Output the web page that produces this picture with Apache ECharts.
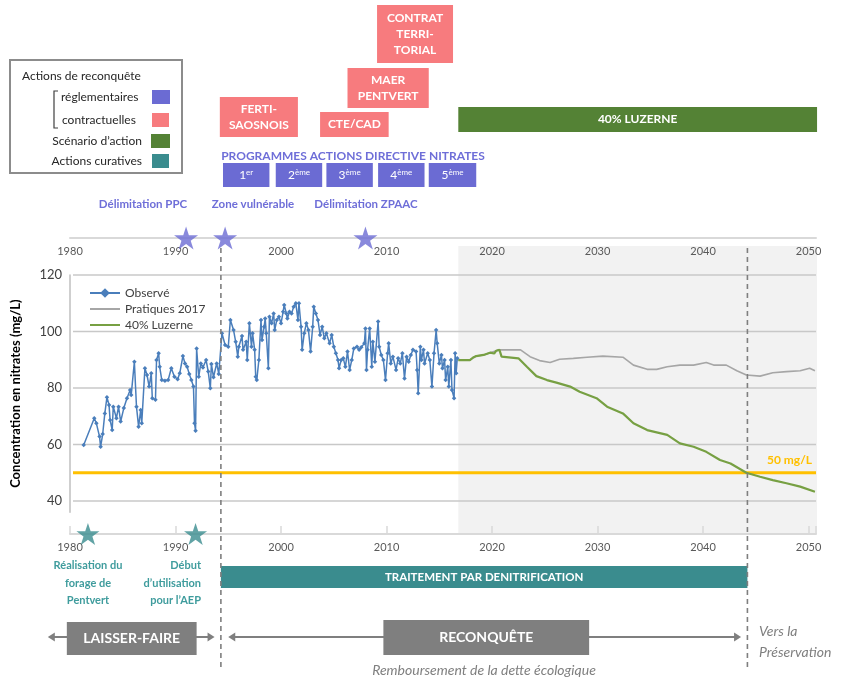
<!DOCTYPE html>
<html><head><meta charset="utf-8">
<script src="https://cdn.jsdelivr.net/npm/echarts@6/dist/echarts.min.js"></script>
<style>html,body{margin:0;padding:0;background:#fff}#c{width:845px;height:680px}</style>
</head><body><div id="c"></div>
<script>
// ---------------- DATA ----------------
const tickYears = [1980, 1990, 2000, 2010, 2020, 2030, 2040, 2050];
const yTicks = [40, 60, 80, 100, 120];
const threshold = 50;
const thresholdLabel = '50 mg/L';

const obsYears = [1981.3,1982.3,1982.5,1982.8,1982.9,1983.1,1983.3,1983.5,1983.7,1983.8,1984.0,1984.1,1984.4,1984.6,1984.8,1985.1,1985.4,1985.7,1985.8,1986.1,1986.3,1986.5,1986.7,1986.8,1987.1,1987.3,1987.5,1987.7,1987.8,1988.1,1988.2,1988.4,1988.5,1988.7,1989.0,1989.3,1989.6,1989.9,1990.2,1990.4,1990.7,1990.9,1991.1,1991.3,1991.5,1991.7,1991.8,1991.9,1992.0,1992.2,1992.4,1992.6,1992.9,1993.1,1993.3,1993.4,1993.6,1993.9,1994.1,1994.4,1994.7,1995.0,1995.2,1995.5,1995.7,1995.9,1996.0,1996.3,1996.4,1996.7,1996.8,1997.0,1997.2,1997.3,1997.5,1997.6,1997.7,1997.9,1998.1,1998.2,1998.4,1998.5,1998.6,1998.8,1998.9,1999.1,1999.3,1999.4,1999.6,1999.8,2000.0,2000.2,2000.3,2000.5,2000.6,2000.8,2001.0,2001.2,2001.4,2001.6,2001.7,2001.9,2002.0,2002.2,2002.4,2002.6,2002.8,2003.0,2003.1,2003.3,2003.5,2003.7,2003.9,2004.1,2004.3,2004.6,2004.8,2005.0,2005.2,2005.4,2005.5,2005.7,2005.9,2006.1,2006.3,2006.5,2006.7,2006.9,2007.2,2007.4,2007.6,2007.9,2008.0,2008.1,2008.2,2008.4,2008.6,2008.7,2008.9,2009.2,2009.3,2009.5,2009.7,2009.9,2010.1,2010.2,2010.4,2010.6,2010.9,2011.1,2011.3,2011.5,2011.7,2011.9,2012.1,2012.3,2012.5,2012.8,2012.9,2013.0,2013.2,2013.3,2013.5,2013.6,2013.9,2014.1,2014.3,2014.5,2014.7,2014.8,2015.0,2015.2,2015.3,2015.5,2015.6,2015.8,2015.9,2016.1,2016.2,2016.4,2016.5,2016.6,2016.7];
const obsValues = [59.8,69.3,67.5,62.8,59.2,63.7,71,76.7,74,68.7,65.1,73.4,69.3,73.4,68.1,72.9,76.4,79.3,77.5,89.3,73.4,66.3,72.2,67.5,87,84.6,80.5,85.2,76.4,75.8,89.9,92.3,87.5,82.8,82.6,82.8,87,84,83.1,85.2,91.3,88.7,87.5,85,82.8,80.5,67.5,64.9,94,84,88.7,87.3,89.9,85.8,79.9,88.5,83.8,88.7,85,99.4,95.2,94.6,104.1,100.5,96.4,91.1,94.6,98.4,93.5,96.4,89.9,102.9,94.6,99.4,93.5,84,82.8,89.9,104.1,97,101.7,104.6,99.4,87,105.2,102.9,106.4,100.5,104.1,105.2,102.9,107,109.4,106.4,104.6,107,106.4,108.8,110,104.1,110,101.7,93.5,99.4,102.9,100.5,92.9,101.7,108.8,106.4,104.1,98.8,101.7,97.6,99.4,95.8,98.8,94.6,92.3,89.9,87,89.9,90.5,87.5,92.9,86.4,89.9,94,94.6,93.5,94.4,95.8,101.1,86.4,93.5,101.1,87.5,96.4,89.3,103.5,94.6,91.7,89.9,82.8,92.3,95.8,88.7,91.1,86.4,90.5,88.7,92.3,83.4,91.1,89.3,91.7,93.5,92.9,86.4,78.1,94.6,89.9,93.5,88.7,92.3,89.9,80.5,92.3,100.5,95.8,88.7,91.7,87,89.9,82.8,87.5,80.5,89.9,79.3,76.4,92.3,85.2,90.5];

const pratYears = [2016.8,2017.9,2018.5,2019.2,2019.8,2020.4,2020.6,2022.7,2023.6,2024.5,2025.5,2026.4,2027.7,2029.0,2030.5,2032.4,2033.4,2034.7,2035.6,2036.6,2037.8,2039.1,2040.3,2041.0,2042.2,2043.2,2044.1,2045.4,2046.6,2047.9,2049.2,2050.1,2050.6];
const pratValues = [89.9,89.9,91.3,91.7,92.5,93.2,93.5,93.5,91.1,89.7,89,90.2,90.5,90.9,91.3,90.9,88.1,86.6,86.6,87.5,88.1,88.1,89,88.1,88.1,86.1,84.6,84.2,85.4,85.8,86.1,87,86.1];

const luzYears = [2016.8,2017.9,2018.2,2018.5,2019.2,2019.8,2020.2,2020.4,2020.7,2020.9,2022.5,2023.3,2024.2,2025.2,2026.1,2027.4,2028.3,2029.9,2030.9,2032.4,2033.4,2034.7,2036.6,2037.8,2039.1,2040.3,2041.6,2042.6,2044.1,2045.4,2046.6,2047.9,2049.2,2050.6];
const luzValues = [89.9,89.9,90.8,91.3,91.7,92.5,92.2,93.2,93.5,91.1,90.5,87.5,84.2,82.8,81.9,80.5,78.7,76.4,73.4,71,67.5,65.1,63.4,60.4,59.2,57.4,54.5,53.3,50,48.6,47.4,46.3,45.1,43.3];

const topStarYears = [1991.0, 1994.7, 2008.0];
const topEventLabels = ['Délimitation PPC', 'Zone vulnérable', 'Délimitation ZPAAC'];
const bottomStarYears = [1981.7, 1991.9];
const bottomEventLabels = ['Réalisation du\nforage de\nPentvert', 'Début\nd\u2019utilisation\npour l\u2019AEP'];

const contractNames = ['FERTI-\nSAOSNOIS', 'CTE/CAD', 'MAER\nPENTVERT', 'CONTRAT\nTERRI-\nTORIAL'];
const contractStart = [1994.2, 2003.7, 2006.3, 2009.1];
const contractEnd = [2001.6, 2010.2, 2014.0, 2016.3];

const programmeTitle = 'PROGRAMMES ACTIONS DIRECTIVE NITRATES';
const programmeNum = ['1', '2', '3', '4', '5'];
const programmeSuffix = ['er', 'ème', 'ème', 'ème', 'ème'];
const programmeStart = [1994.5, 1999.5, 2004.3, 2009.2, 2014.0];
const programmeEnd = [1998.9, 2003.9, 2008.7, 2013.6, 2018.5];

const scenarioLabel = '40% LUZERNE';
const scenarioSpan = [2016.8, 2050.8];
const treatmentLabel = 'TRAITEMENT PAR DENITRIFICATION';
const treatmentSpan = [1994.3, 2044.2];
const phaseLabels = ['LAISSER-FAIRE', 'RECONQUÊTE'];
const phaseBoxStart = [1979.7, 2009.7];
const phaseBoxEnd = [1992.0, 2029.2];
const phaseArrowStart = [1977.9, 1995.0];
const phaseArrowEnd = [1993.7, 2043.6];
const dividerYears = [1994.3, 2044.2];
const projectionSpan = [2016.8, 2050.8];

const legendTitle = 'Actions de reconquête';
const legendItems = ['réglementaires', 'contractuelles', 'Scénario d\u2019action', 'Actions curatives'];

// ---------------- LAYOUT / STYLE ----------------
const FONT = 'Lato, "Open Sans", "DejaVu Sans", sans-serif';
const COL = {purple:'#6B6BD3', purpleText:'#6E6ED8', pink:'#F77B7E', green:'#548235', teal:'#3A8C8E', tealText:'#3F9C9D',
  box:'#7F7F7F', blue:'#4A7EBB', prat:'#A6A6A6', luz:'#77A043', orange:'#FFC000', grid:'#C8C8C8', axis:'#D9D9D9', label:'#595959'};
const XMIN = 1980, XMAX = 2050.7;
const PXL = 70, PXR = 816, CW = 845, CH = 680;
const pxPerYear = (PXR - PXL) / (XMAX - XMIN);
const OXMIN = XMIN - PXL / pxPerYear, OXMAX = XMIN + (CW - PXL) / pxPerYear;
const ROW = {contract:[[97,137],[112,137],[68,108],[5,63]], programme:[163,187], scenario:[107,132], treatment:[566,588],
  phaseBox:[[622,655],[620,655]], arrow:637, divider:[248,668], shade:[246,533]};
const STAR = 'path://M12,0L14.8,8.6L23.9,8.6L16.6,13.9L19.4,22.6L12,17.3L4.6,22.6L7.4,13.9L0.1,8.6L9.2,8.6Z';

// overlay drawables
const overlay = [];
contractNames.forEach((n, i) => overlay.push({kind:'box', s:contractStart[i], e:contractEnd[i], t:ROW.contract[i][0], b:ROW.contract[i][1],
  fill:COL.pink, text:n, font:'bold 12px ' + FONT, lh:16}));
programmeNum.forEach((n, i) => overlay.push({kind:'box', s:programmeStart[i], e:programmeEnd[i], t:ROW.programme[0], b:ROW.programme[1],
  fill:COL.purple, text:'{n|' + n + '}{s|' + programmeSuffix[i] + '}',
  rich:{n:{fontSize:12, fontFamily:FONT, fill:'#fff', color:'#fff'}, s:{fontSize:8, fontFamily:FONT, fill:'#fff', color:'#fff', padding:[0,0,6,0]}}}));
overlay.push({kind:'box', s:scenarioSpan[0], e:scenarioSpan[1], t:ROW.scenario[0], b:ROW.scenario[1], fill:COL.green, text:scenarioLabel, font:'bold 12px ' + FONT});
overlay.push({kind:'box', s:treatmentSpan[0], e:treatmentSpan[1], t:ROW.treatment[0], b:ROW.treatment[1], fill:COL.teal, text:treatmentLabel, font:'bold 11.5px ' + FONT});
phaseLabels.forEach((n, i) => {
  overlay.push({kind:'arrow', s:phaseArrowStart[i], e:phaseArrowEnd[i], y:ROW.arrow});
});
phaseLabels.forEach((n, i) => {
  overlay.push({kind:'box', s:phaseBoxStart[i], e:phaseBoxEnd[i], t:ROW.phaseBox[i][0], b:ROW.phaseBox[i][1], fill:COL.box, text:n, font:'bold 14px ' + FONT});
});
dividerYears.forEach(y => overlay.push({kind:'divider', x:y, t:ROW.divider[0], b:ROW.divider[1]}));

function renderOverlay(params, api) {
  const it = overlay[params.dataIndex];
  if (it.kind === 'box') {
    const p1 = api.coord([it.s, it.t]), p2 = api.coord([it.e, it.b]);
    const ch = [{type:'rect', shape:{x:p1[0], y:p1[1], width:p2[0]-p1[0], height:p2[1]-p1[1]}, style:{fill:it.fill}}];
    ch.push({type:'text', x:(p1[0]+p2[0])/2, y:(p1[1]+p2[1])/2, style:{text:it.text, fill:'#fff', font:it.font || ('12px ' + FONT),
      align:'center', verticalAlign:'middle', lineHeight:it.lh, rich:it.rich}});
    return {type:'group', children:ch};
  }
  if (it.kind === 'arrow') {
    const a = api.coord([it.s, it.y]), b = api.coord([it.e, it.y]);
    const h = 7, w = 4.5;
    return {type:'group', children:[
      {type:'line', shape:{x1:a[0]+h-1, y1:a[1], x2:b[0]-h+1, y2:b[1]}, style:{stroke:COL.box, lineWidth:2}},
      {type:'polygon', shape:{points:[[a[0],a[1]],[a[0]+h,a[1]-w],[a[0]+h,a[1]+w]]}, style:{fill:COL.box}},
      {type:'polygon', shape:{points:[[b[0],b[1]],[b[0]-h,b[1]-w],[b[0]-h,b[1]+w]]}, style:{fill:COL.box}}
    ]};
  }
  if (it.kind === 'divider') {
    const a = api.coord([it.x, it.t]), b = api.coord([it.x, it.b]);
    return {type:'line', shape:{x1:a[0], y1:a[1], x2:b[0], y2:b[1]}, style:{stroke:'#7F7F7F', lineWidth:1.6, lineDash:[5,4]}};
  }
  return null;
}

function renderShade(params, api) {
  const p1 = api.coord([projectionSpan[0], ROW.shade[0]]), p2 = api.coord([projectionSpan[1], ROW.shade[1]]);
  return {type:'rect', shape:{x:p1[0], y:p1[1], width:p2[0]-p1[0], height:p2[1]-p1[1]}, style:{fill:'#F2F2F2'}};
}

function renderGridLines(params, api) {
  const v = api.value(1);
  const a = api.coord([XMIN, v]), b = api.coord([XMAX, v]);
  return {type:'line', shape:{x1:a[0]+3, y1:a[1], x2:b[0], y2:b[1]}, style:{stroke:COL.grid, lineWidth:1.5}};
}

function renderThreshold(params, api) {
  const a = api.coord([XMIN, threshold]), b = api.coord([XMAX, threshold]);
  return {type:'group', children:[
    {type:'line', shape:{x1:a[0]+3, y1:a[1], x2:b[0], y2:b[1]}, style:{stroke:COL.orange, lineWidth:3}},
    {type:'text', x:b[0]-4, y:b[1]-7, style:{text:thresholdLabel, fill:COL.orange, font:'bold 12px ' + FONT, align:'right', verticalAlign:'bottom'}}
  ]};
}

const zip = (xs, ys) => xs.map((x, i) => [x, ys[i]]);

const timeAxisLabel = {color:COL.label, fontSize:11, fontFamily:FONT, margin:8, formatter: v => tickYears.includes(v) ? String(v) : ''};

const option = {
  animation:false,
  backgroundColor:'#fff',
  textStyle:{fontFamily:FONT},
  grid:[
    {left:PXL, right:CW-PXR, top:275, height:237.3},   // main plot (36..120)
    {left:PXL, right:CW-PXR, top:200, height:38},      // top timeline
    {left:PXL, right:CW-PXR, top:500, height:34},      // bottom timeline
    {left:0, right:0, top:0, bottom:0}                 // overlay (years x, pixel rows y)
  ],
  xAxis:[
    {gridIndex:0, type:'value', min:XMIN, max:XMAX, show:false},
    {gridIndex:1, type:'value', min:XMIN, max:XMAX, interval:10, axisLine:{lineStyle:{color:COL.axis, width:2}},
      axisTick:{show:false}, splitLine:{show:false}, axisLabel:timeAxisLabel},
    {gridIndex:2, type:'value', min:XMIN, max:XMAX, interval:10, axisLine:{lineStyle:{color:COL.axis, width:2}},
      axisTick:{show:true, inside:true, length:8, lineStyle:{color:COL.axis, width:1.5}}, splitLine:{show:false}, axisLabel:timeAxisLabel},
    {gridIndex:3, type:'value', min:OXMIN, max:OXMAX, show:false}
  ],
  yAxis:[
    {gridIndex:0, type:'value', min:36, max:120, interval:4,
      name:'Concentration en nitrates (mg/L)', nameLocation:'middle', nameGap:48, nameRotate:90,
      nameTextStyle:{fontSize:13, fontWeight:'bold', color:'#000', fontFamily:FONT},
      axisLine:{show:true, lineStyle:{color:'#BFBFBF', width:1.5}}, axisTick:{show:false}, splitLine:{show:false},
      axisLabel:{color:'#404040', fontSize:13, fontFamily:FONT, margin:8, formatter: v => yTicks.includes(v) ? String(v) : ''}},
    {gridIndex:1, type:'value', min:0, max:1, show:false},
    {gridIndex:2, type:'value', min:0, max:1, show:false},
    {gridIndex:3, type:'value', min:0, max:CH, inverse:true, show:false}
  ],
  legend:{
    data:[
      {name:'Observé'},
      {name:'Pratiques 2017', itemStyle:{opacity:0}},
      {name:'40% Luzerne', itemStyle:{opacity:0}}
    ],
    orient:'vertical', left:84, top:282,
    itemWidth:30, itemHeight:12, itemGap:4, textStyle:{fontSize:12, color:'#404040', fontFamily:FONT}
  },
  series:[
    {type:'custom', name:'shade', xAxisIndex:3, yAxisIndex:3, data:[[projectionSpan[0], ROW.shade[0]]], renderItem:renderShade, silent:true, z:0, clip:false},
    {type:'custom', name:'grid', xAxisIndex:0, yAxisIndex:0, data:yTicks.map(v => [XMIN, v]), renderItem:renderGridLines, silent:true, z:1, clip:false},
    {type:'custom', name:'seuil', xAxisIndex:0, yAxisIndex:0, data:[[XMIN, threshold]], renderItem:renderThreshold, silent:true, z:3, clip:false},
    {type:'line', name:'Pratiques 2017', xAxisIndex:0, yAxisIndex:0, data:zip(pratYears, pratValues), symbol:'none',
      lineStyle:{color:COL.prat, width:1.6}, itemStyle:{color:COL.prat}, z:4},
    {type:'line', name:'40% Luzerne', xAxisIndex:0, yAxisIndex:0, data:zip(luzYears, luzValues), symbol:'none',
      lineStyle:{color:COL.luz, width:2.2}, itemStyle:{color:COL.luz}, z:5},
    {type:'line', name:'Observé', xAxisIndex:0, yAxisIndex:0, data:zip(obsYears, obsValues), symbol:'diamond', symbolSize:4.5,
      lineStyle:{color:COL.blue, width:1.5}, itemStyle:{color:COL.blue}, z:6},
    {type:'scatter', name:'topEvents', xAxisIndex:1, yAxisIndex:1, data:topStarYears.map(y => [y, 0]), symbol:STAR, symbolSize:[24,23],
      itemStyle:{color:COL.purple}, clip:false, z:7},
    {type:'scatter', name:'bottomEvents', xAxisIndex:2, yAxisIndex:2, data:bottomStarYears.map(y => [y, 0]), symbol:STAR, symbolSize:[23,22],
      itemStyle:{color:COL.teal}, clip:false, z:7},
    {type:'custom', name:'overlay', xAxisIndex:3, yAxisIndex:3, data:overlay.map((it, i) => [it.s || it.x, it.t || it.y]),
      renderItem:renderOverlay, silent:true, z:10, clip:false}
  ],
  graphic:[
    // legend box of actions
    {type:'rect', shape:{x:10, y:60, width:172, height:113}, style:{fill:'#fff', stroke:'#8C8C8C', lineWidth:2}},
    {type:'text', x:22, y:76, style:{text:legendTitle, font:'12px ' + FONT, fill:'#262626', verticalAlign:'middle'}},
    {type:'polyline', shape:{points:[[58,91],[54,91],[54,128],[58,128]]}, style:{stroke:'#404040', lineWidth:1.2, fill:null}},
    {type:'text', x:61, y:97, style:{text:legendItems[0], font:'12px ' + FONT, fill:'#262626', verticalAlign:'middle'}},
    {type:'text', x:62, y:120, style:{text:legendItems[1], font:'12px ' + FONT, fill:'#262626', verticalAlign:'middle'}},
    {type:'text', x:142, y:141, style:{text:legendItems[2], font:'12px ' + FONT, fill:'#262626', align:'right', verticalAlign:'middle'}},
    {type:'text', x:142, y:161, style:{text:legendItems[3], font:'12px ' + FONT, fill:'#262626', align:'right', verticalAlign:'middle'}},
    {type:'rect', shape:{x:152, y:90, width:18, height:14}, style:{fill:COL.purple}},
    {type:'rect', shape:{x:152, y:113, width:17, height:14}, style:{fill:COL.pink}},
    {type:'rect', shape:{x:151, y:134, width:19, height:14}, style:{fill:COL.green}},
    {type:'rect', shape:{x:152, y:154, width:17, height:14}, style:{fill:COL.teal}},
    // programme title
    {type:'text', x:353, y:156, style:{text:programmeTitle, font:'bold 12px ' + FONT, fill:COL.purpleText, align:'center', verticalAlign:'middle'}},
    // top event labels
    {type:'text', x:143, y:204, style:{text:topEventLabels[0], font:'bold 11.5px ' + FONT, fill:COL.purpleText, align:'center', verticalAlign:'middle'}},
    {type:'text', x:253, y:204, style:{text:topEventLabels[1], font:'bold 11.5px ' + FONT, fill:COL.purpleText, align:'center', verticalAlign:'middle'}},
    {type:'text', x:366, y:204, style:{text:topEventLabels[2], font:'bold 11.5px ' + FONT, fill:COL.purpleText, align:'center', verticalAlign:'middle'}},
    // bottom event labels
    {type:'text', x:88, y:583, style:{text:bottomEventLabels[0], font:'bold 11px ' + FONT, fill:COL.tealText, align:'center', verticalAlign:'middle', lineHeight:17.5}},
    {type:'text', x:201, y:583, style:{text:bottomEventLabels[1], font:'bold 11px ' + FONT, fill:COL.tealText, align:'right', verticalAlign:'middle', lineHeight:17.5}},
    // phase captions
    {type:'text', x:759, y:642, style:{text:'Vers la\nPréservation', font:'italic 14px ' + FONT, fill:'#7F7F7F', verticalAlign:'middle', lineHeight:21}},
    {type:'text', x:484, y:670, style:{text:'Remboursement de la dette écologique', font:'italic 14px ' + FONT, fill:'#7F7F7F', align:'center', verticalAlign:'middle'}}
  ]
};

const chart = echarts.init(document.getElementById('c'));
chart.setOption(option);
</script>
</body></html>
